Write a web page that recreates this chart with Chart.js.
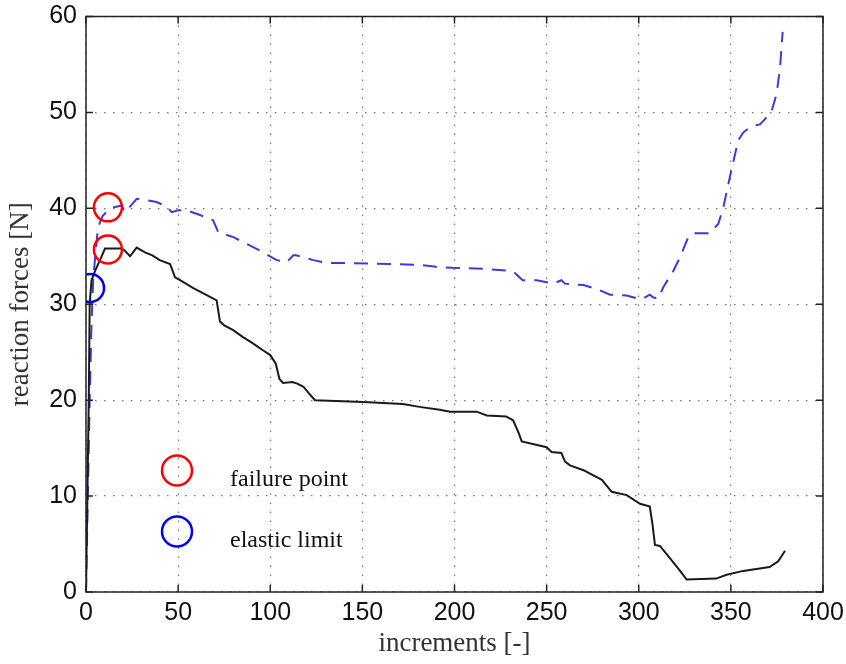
<!DOCTYPE html>
<html>
<head>
<meta charset="utf-8">
<script src="https://cdn.jsdelivr.net/npm/chart.js@4.4.1/dist/chart.umd.min.js"></script>
<style>
  body { margin: 0; background: #fff; }
  canvas { display: block; }
</style>
</head>
<body>
<canvas id="forceChart" width="846" height="664"></canvas>
<script>
// values
const xTicks = [0, 50, 100, 150, 200, 250, 300, 350, 400];
const yTicks = [0, 10, 20, 30, 40, 50, 60];

const solidX = [0, 1.5, 2, 3, 5, 7.6, 10.3, 19.4, 21, 23.9, 27.5, 32, 36, 40, 45.6, 47, 48.3, 52, 58, 65, 70.9, 72.7, 75, 79.9, 85, 90, 96, 100, 103, 105, 107, 112, 115, 118, 121, 124.3, 150.5, 172, 181, 192, 197.6, 212, 217.5, 228, 231.8, 234.6, 236.5, 250, 252.7, 258, 260, 262.7, 270, 280, 285.3, 293.5, 300.7, 306, 307.5, 308.8, 311.5, 314, 317.9, 322, 326, 342, 347.7, 356.7, 371, 375.7, 379.4];
const solidY = [0, 20, 30, 32.5, 33.5, 34.6, 35.8, 35.8, 35.6, 35, 35.9, 35.4, 35.1, 34.6, 34.2, 33.5, 32.8, 32.4, 31.7, 31, 30.4, 28.2, 27.8, 27.3, 26.6, 26, 25.2, 24.7, 23.8, 22.2, 21.8, 21.9, 21.7, 21.4, 20.7, 20, 19.8, 19.6, 19.3, 19, 18.8, 18.8, 18.4, 18.3, 17.9, 16.7, 15.7, 15.1, 14.6, 14.5, 13.6, 13.2, 12.7, 11.7, 10.45, 10.1, 9.2, 8.9, 7, 4.9, 4.8, 4.2, 3.3, 2.3, 1.3, 1.4, 1.8, 2.2, 2.6, 3.2, 4.3];

const dashedX = [0, 1, 2, 3, 3.9, 5, 6.5, 9, 13, 19.4, 21, 24, 27.5, 34.7, 38.3, 43.8, 46.5, 50, 54.6, 61.9, 69, 71.8, 80, 94.4, 103.5, 109, 112.5, 114, 123.4, 130.6, 139.6, 165, 181, 190, 198.5, 215.6, 230, 232, 237, 244.6, 253.6, 258, 260, 270, 277, 284.4, 293.4, 301.6, 306, 308, 310.6, 313.4, 318.8, 322.4, 326.9, 329.6, 338.7, 343.2, 345.9, 349.5, 354, 356.7, 361.3, 365.8, 368.5, 372.2, 374.8, 376.7, 378.1];
const dashedY = [0, 10, 20, 28, 32.5, 35, 38, 39.2, 40, 40.3, 39.6, 40.2, 41, 40.8, 40.66, 40.2, 39.6, 39.8, 39.8, 39.3, 38.75, 37.5, 37, 35.6, 34.6, 34.4, 35.1, 35.1, 34.6, 34.3, 34.3, 34.2, 34.1, 33.9, 33.8, 33.7, 33.5, 33.4, 32.5, 32.5, 32.15, 32.5, 32.15, 32, 31.6, 31, 30.9, 30.5, 31, 30.7, 30.6, 31.8, 33.5, 34.9, 37, 37.4, 37.4, 38.4, 40.1, 43.3, 47.1, 47.9, 48.6, 48.75, 49.3, 50.2, 51.9, 54.7, 58.4];

const failureX = [11.9, 11.9];
const failureY = [40.1, 35.7];
const elasticX = [2.2];
const elasticY = [31.7];

const legendLabels = ['failure point', 'elastic limit'];
const legendColors = ['#ff0000', '#0000ff'];

function toPoints(xs, ys) {
    return xs.map((x, i) => ({ x: x, y: ys[i] }));
}

// box with inward tick marks + the hand-made legend
const framePlugin = {
    id: 'frame',
    afterDatasetsDraw(chart) {
        const ctx = chart.ctx;
        const a = chart.chartArea;
        const xs = chart.scales.x;
        const ys = chart.scales.y;
        ctx.save();
        ctx.strokeStyle = '#222';
        ctx.lineWidth = 1.5;
        ctx.beginPath();
        xTicks.forEach(v => {
            const px = xs.getPixelForValue(v);
            ctx.moveTo(px, a.bottom); ctx.lineTo(px, a.bottom - 7);
            ctx.moveTo(px, a.top); ctx.lineTo(px, a.top + 7);
        });
        yTicks.forEach(v => {
            const py = ys.getPixelForValue(v);
            ctx.moveTo(a.left, py); ctx.lineTo(a.left + 7, py);
            ctx.moveTo(a.right, py); ctx.lineTo(a.right - 7, py);
        });
        ctx.stroke();
        ctx.strokeRect(a.left, a.top, a.right - a.left, a.bottom - a.top);

        // legend
        ctx.lineWidth = 2.5;
        ctx.font = '24px "Liberation Serif", serif';
        ctx.fillStyle = '#111';
        ctx.textBaseline = 'alphabetic';
        legendLabels.forEach((label, i) => {
            const cy = a.top + 454 + i * 61;
            ctx.strokeStyle = legendColors[i];
            ctx.beginPath();
            ctx.arc(a.left + 91, cy, 15, 0, Math.PI * 2);
            ctx.stroke();
            ctx.fillText(label, a.left + 144, cy + 15);
        });
        ctx.restore();
    }
};

function noLabelOverflow(s) {
    s.paddingLeft = 0;
    s.paddingRight = 0;
    s.paddingTop = 0;
    s.paddingBottom = 0;
}

const ctx = document.getElementById('forceChart').getContext('2d');
new Chart(ctx, {
    type: 'line',
    data: {
        datasets: [
            {
                label: 'failure point',
                data: toPoints(failureX, failureY),
                showLine: false,
                pointRadius: 14,
                pointBorderWidth: 2.5,
                pointBorderColor: '#ff0000',
                pointBackgroundColor: 'rgba(0,0,0,0)',
                order: 0
            },
            {
                label: 'elastic limit',
                data: toPoints(elasticX, elasticY),
                showLine: false,
                pointRadius: 14,
                pointBorderWidth: 2.5,
                pointBorderColor: '#0000ff',
                pointBackgroundColor: 'rgba(0,0,0,0)',
                order: 0
            },
            {
                label: 'reaction (dashed)',
                data: toPoints(dashedX, dashedY),
                borderColor: '#3b3bd8',
                borderWidth: 2,
                borderDash: [14, 9],
                pointRadius: 0,
                tension: 0,
                order: 2
            },
            {
                label: 'reaction (solid)',
                data: toPoints(solidX, solidY),
                borderColor: '#1a1a1a',
                borderWidth: 2,
                pointRadius: 0,
                tension: 0,
                order: 1
            }
        ]
    },
    options: {
        responsive: false,
        animation: false,
        devicePixelRatio: 1,
        layout: { padding: { top: 16, right: 23, left: 0, bottom: 0 } },
        plugins: {
            legend: { display: false },
            tooltip: { enabled: false }
        },
        scales: {
            x: {
                type: 'linear',
                min: 0,
                max: 400,
                afterFit: s => { s.height = 72; noLabelOverflow(s); },
                afterBuildTicks: s => { s.ticks = xTicks.map(v => ({ value: v })); },
                ticks: {
                    color: '#111',
                    padding: 6,
                    maxRotation: 0,
                    font: { family: '"Liberation Sans", Arial, sans-serif', size: 25 }
                },
                grid: { color: '#777', lineWidth: 1.2, drawTicks: false },
                border: { display: false, dash: [1.5, 7.5] },
                title: {
                    display: true,
                    text: 'increments [-]',
                    color: '#333',
                    padding: { top: 0, bottom: 4 },
                    font: { family: '"Liberation Serif", serif', size: 27 }
                }
            },
            y: {
                type: 'linear',
                min: 0,
                max: 60,
                afterFit: s => { s.width = 86; noLabelOverflow(s); },
                afterBuildTicks: s => { s.ticks = yTicks.map(v => ({ value: v })); },
                ticks: {
                    color: '#111',
                    padding: 9,
                    font: { family: '"Liberation Sans", Arial, sans-serif', size: 25 }
                },
                grid: { color: '#777', lineWidth: 1.2, drawTicks: false },
                border: { display: false, dash: [1.5, 7.5] },
                title: {
                    display: true,
                    text: 'reaction forces [N]',
                    color: '#333',
                    padding: { top: 5, bottom: 0 },
                    font: { family: '"Liberation Serif", serif', size: 27 }
                }
            }
        }
    },
    plugins: [framePlugin]
});
</script>
</body>
</html>
